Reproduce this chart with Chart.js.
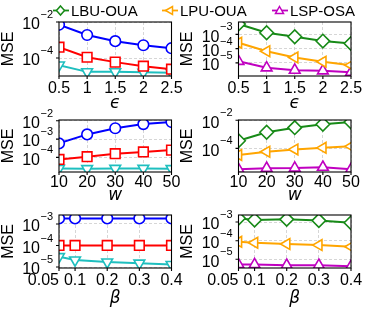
<!DOCTYPE html>
<html>
<head>
<meta charset="utf-8">
<script src="https://cdn.jsdelivr.net/npm/chart.js@4.4.0/dist/chart.umd.min.js"></script>
<style>
  html, body { margin: 0; padding: 0; background: #fff; }
  #wrap { position: relative; width: 390px; height: 313px; overflow: hidden; font-family: "Liberation Sans", Arial, sans-serif; }
  #wrap canvas { position: absolute; left: 0; top: 0; }
  .leg { position: absolute; top: 0; height: 21px; line-height: 21px; font-size: 15px; white-space: nowrap; color: #000; z-index: 5; }
  .leg svg { vertical-align: top; margin-right: 1px; }
</style>
</head>
<body>
<div id="wrap"></div>
<script>
// ---------------- data ----------------
const epsTicks = [0.5, 1, 1.5, 2, 2.5];
const epsLabels = ['0.5', '1', '1.5', '2', '2.5'];
const wTicks = [10, 20, 30, 40, 50];
const wLabels = ['10', '20', '30', '40', '50'];
const betaTicks = [0.05, 0.1, 0.2, 0.3, 0.4];
const betaLabels = ['0.05', '0.1', '0.2', '0.3', '0.4'];

const legendNames = ['LBU-OUA', 'LPU-OUA', 'LSP-OSA'];

// epsilon, left / right
const epsBlue    = [7.0e-3, 1.9e-3, 8.6e-4, 5.1e-4, 3.5e-4];
const epsRed     = [4.0e-4, 1.1e-4, 5.9e-5, 3.5e-5, 2.4e-5];
const epsCyan    = [4.0e-5, 1.7e-5, 1.7e-5, 1.6e-5, 1.5e-5];
const epsGreen   = [5.3e-3, 1.3e-3, 6.8e-4, 3.4e-4, 2.3e-4];
const epsOrange  = [2.6e-4, 6.5e-5, 2.4e-5, 1.2e-5, 6.9e-6];
const epsMagenta = [1.3e-5, 4.5e-6, 3.1e-6, 2.8e-6, 2.2e-6];

// w, left / right
const wBlue    = [5.8e-4, 1.8e-3, 3.9e-3, 6.6e-3, 8.5e-3];
const wRed     = [7.8e-5, 1.1e-4, 1.6e-4, 2.0e-4, 2.5e-4];
const wCyan    = [2.5e-5, 2.4e-5, 2.5e-5, 2.5e-5, 2.4e-5];
const wGreen   = [3.5e-4, 1.4e-3, 3.0e-3, 5.2e-3, 7.6e-3];
const wOrange  = [3.4e-5, 5.8e-5, 8.5e-5, 1.1e-4, 1.4e-4];
const wMagenta = [3.3e-6, 3.9e-6, 4.0e-6, 4.6e-6, 3.3e-6];

// beta, left / right
const betaBlue    = [1.8e-3, 1.8e-3, 1.8e-3, 1.8e-3, 1.8e-3];
const betaRed     = [1.0e-4, 1.0e-4, 1.0e-4, 1.0e-4, 1.0e-4];
const betaCyan    = [3.0e-5, 2.1e-5, 1.7e-5, 1.5e-5, 1.3e-5];
const betaGreen   = [1.6e-3, 1.3e-3, 1.4e-3, 1.2e-3, 9.2e-4];
const betaOrange  = [8.7e-5, 7.7e-5, 6.6e-5, 5.8e-5, 4.7e-5];
const betaMagenta = [5.2e-6, 5.2e-6, 4.8e-6, 4.8e-6, 4.2e-6];

// ---------------- styles ----------------
const W = 390, H = 313;
const FONT = '"Liberation Sans", Arial, sans-serif';
const MATH = '"DejaVu Sans", sans-serif';

const styles = {
  blue:    { color: '#0000ff', pointStyle: 'circle',   rotation: 0,   radius: 5.3 },
  red:     { color: '#ff0000', pointStyle: 'rect',     rotation: 0,   radius: 6.8 },
  cyan:    { color: '#1fbfbf', pointStyle: 'triangle', rotation: 180, radius: 6.2 },
  green:   { color: '#178a17', pointStyle: 'rectRot',  rotation: 0,   radius: 6.8 },
  orange:  { color: '#ffa500', pointStyle: 'triangle', rotation: -90, radius: 6.2 },
  magenta: { color: '#c000c0', pointStyle: 'triangle', rotation: 0,   radius: 6.2 }
};

const panels = [
  { box: { l: 59, t: 22, r: 171.5, b: 76 }, xTicks: epsTicks, xLabels: epsLabels, xTitle: 'ϵ', labelY: 88.5, titleY: 104, mseX: 9,
    yMin: 1e-5, yMax: 1e-2, yTicks: [1e-4, 1e-2],
    series: [[epsBlue, 'blue'], [epsRed, 'red'], [epsCyan, 'cyan']] },
  { box: { l: 238.5, t: 22, r: 351, b: 76 }, xTicks: epsTicks, xLabels: epsLabels, xTitle: 'ϵ', labelY: 88.5, titleY: 104, mseX: 188,
    yMin: 1.2e-6, yMax: 7.4e-3, yTicks: [1e-5, 1e-4, 1e-3],
    series: [[epsGreen, 'green'], [epsOrange, 'orange'], [epsMagenta, 'magenta']] },
  { box: { l: 59, t: 120, r: 171.5, b: 172 }, xTicks: wTicks, xLabels: wLabels, xTitle: 'w', labelY: 183, titleY: 196, mseX: 9,
    yMin: 1.6e-5, yMax: 1.1e-2, yTicks: [1e-4, 1e-3, 1e-2],
    series: [[wBlue, 'blue'], [wRed, 'red'], [wCyan, 'cyan']] },
  { box: { l: 238.5, t: 120, r: 351, b: 172 }, xTicks: wTicks, xLabels: wLabels, xTitle: 'w', labelY: 183, titleY: 196, mseX: 188,
    yMin: 2.1e-6, yMax: 1.05e-2, yTicks: [1e-4, 1e-2],
    series: [[wGreen, 'green'], [wOrange, 'orange'], [wMagenta, 'magenta']] },
  { box: { l: 59, t: 215, r: 171.5, b: 268 }, xTicks: betaTicks, xLabels: betaLabels, xTitle: 'β', labelY: 281, titleY: 299, mseX: 9,
    yMin: 9e-6, yMax: 2.6e-3, yTicks: [1e-5, 1e-4, 1e-3], firstRight: true,
    series: [[betaBlue, 'blue'], [betaRed, 'red'], [betaCyan, 'cyan']] },
  { box: { l: 238.5, t: 215, r: 351, b: 268 }, xTicks: betaTicks, xLabels: betaLabels, xTitle: 'β', labelY: 281, titleY: 299, mseX: 188,
    yMin: 3.4e-6, yMax: 2.4e-3, yTicks: [1e-5, 1e-4, 1e-3], firstRight: true,
    series: [[betaGreen, 'green'], [betaOrange, 'orange'], [betaMagenta, 'magenta']] }
];

// ---------------- frame, ticks and labels ----------------
const framePlugin = {
  id: 'frame',
  afterDatasetsDraw(chart, args, opts) {
    const p = opts.panel;
    const { ctx, chartArea: a } = chart;
    const xs = chart.scales.x, ys = chart.scales.y;
    ctx.save();
    ctx.strokeStyle = '#000';
    ctx.lineWidth = 1.1;
    ctx.strokeRect(a.left, a.top, a.right - a.left, a.bottom - a.top);

    // tick marks
    ctx.beginPath();
    p.yTicks.forEach(v => {
      const py = ys.getPixelForValue(v);
      ctx.moveTo(a.left - 3, py); ctx.lineTo(a.left, py);
    });
    p.xTicks.forEach(v => {
      const px = xs.getPixelForValue(v);
      ctx.moveTo(px, a.bottom); ctx.lineTo(px, a.bottom + 3);
    });
    ctx.stroke();

    ctx.fillStyle = '#000';
    // y tick labels: 10 with superscript exponent
    p.yTicks.forEach(v => {
      const py = ys.getPixelForValue(v);
      const sup = '\u2212' + Math.abs(Math.round(Math.log10(v)));
      const right = a.left - 6;
      ctx.font = '11px ' + FONT;
      ctx.textAlign = 'right';
      ctx.textBaseline = 'middle';
      const sw = ctx.measureText(sup).width;
      ctx.fillText(sup, right, py - 7);
      ctx.font = '16px ' + FONT;
      ctx.fillText('10', right - sw - 0.5, py + 3);
    });

    // x tick labels
    ctx.font = '16px ' + FONT;
    ctx.textBaseline = 'middle';
    p.xTicks.forEach((v, i) => {
      const px = xs.getPixelForValue(v);
      ctx.textAlign = (i === 0 && p.firstRight) ? 'right' : 'center';
      ctx.fillText(p.xLabels[i], px, p.labelY);
    });

    // axis titles
    const cx = (a.left + a.right) / 2;
    ctx.font = 'italic 17px ' + MATH;
    ctx.textAlign = 'center';
    ctx.fillText(p.xTitle, cx, p.titleY);

    ctx.translate(p.mseX, (a.top + a.bottom) / 2);
    ctx.rotate(-Math.PI / 2);
    ctx.font = '16px ' + FONT;
    ctx.fillText('MSE', 0, 0);
    ctx.restore();
  }
};

Chart.defaults.font.family = FONT;

const wrap = document.getElementById('wrap');

panels.forEach((p, k) => {
  const cv = document.createElement('canvas');
  cv.width = W; cv.height = H;
  cv.id = 'chart' + k;
  wrap.appendChild(cv);

  const datasets = p.series.map(([vals, key]) => {
    const s = styles[key];
    return {
      label: key,
      data: vals.map((v, i) => ({ x: p.xTicks[i], y: v })),
      borderColor: s.color,
      borderWidth: 2,
      pointStyle: s.pointStyle,
      pointRotation: s.rotation,
      pointRadius: s.radius,
      pointBorderWidth: 1.6,
      pointBorderColor: s.color,
      pointBackgroundColor: '#ffffff',
      tension: 0,
      clip: 0
    };
  });

  const gridOpts = { color: '#cccccc', lineWidth: 0.8, drawTicks: false };
  new Chart(cv, {
    type: 'line',
    data: { datasets },
    options: {
      responsive: false,
      animation: false,
      devicePixelRatio: 1,
      events: [],
      layout: { padding: { left: p.box.l, top: p.box.t, right: W - p.box.r, bottom: H - p.box.b } },
      plugins: { legend: { display: false }, tooltip: { enabled: false }, frame: { panel: p } },
      scales: {
        x: {
          type: 'linear', min: p.xTicks[0], max: p.xTicks[p.xTicks.length - 1], bounds: 'data',
          ticks: { display: false }, grid: gridOpts, border: { display: false, dash: [3, 2] },
          afterBuildTicks: s => { s.ticks = p.xTicks.map(v => ({ value: v })); },
          afterFit: s => { s.height = 0; }
        },
        y: {
          type: 'logarithmic', min: p.yMin, max: p.yMax, bounds: 'data',
          ticks: { display: false }, grid: gridOpts, border: { display: false, dash: [3, 2] },
          afterBuildTicks: s => { s.ticks = p.yTicks.map(v => ({ value: v })); },
          afterFit: s => { s.width = 0; }
        }
      }
    },
    plugins: [framePlugin]
  });
});

// ---------------- legend ----------------
const legendKeys = ['green', 'orange', 'magenta'];
const legendLeft = [52, 161, 271];
legendNames.forEach((name, i) => {
  const s = styles[legendKeys[i]];
  const c = s.color;
  let marker;
  if (s.pointStyle === 'rectRot') marker = `<path d="M8.5 6 L12.5 10.5 L8.5 15 L4.5 10.5 Z"/>`;
  else if (s.rotation === -90) marker = `<path d="M4.5 10.5 L11.5 6.5 L11.5 14.5 Z"/>`;
  else marker = `<path d="M8.5 6.5 L12.5 13.5 L4.5 13.5 Z"/>`;
  const d = document.createElement('div');
  d.className = 'leg';
  d.style.left = legendLeft[i] + 'px';
  d.innerHTML = `<svg width="18" height="21"><line x1="1" y1="10.5" x2="17" y2="10.5" stroke="${c}" stroke-width="1.8"/>` +
    `<g fill="#fff" stroke="${c}" stroke-width="1.5">${marker}</g></svg>${name}`;
  wrap.appendChild(d);
});
</script>
</body>
</html>
